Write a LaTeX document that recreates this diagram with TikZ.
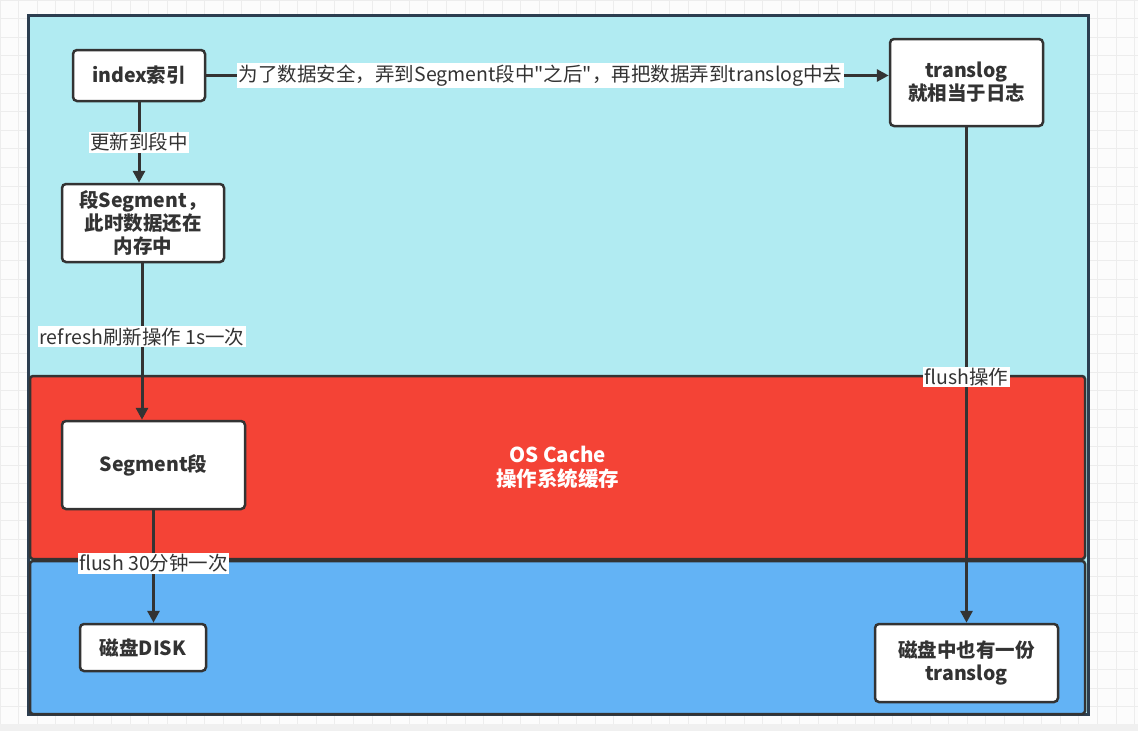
\documentclass[tikz,border=0pt]{standalone}
\usepackage{fontspec}
\newfontfamily\cnfont{Noto Sans CJK SC}
\usepackage{tikz}
\usetikzlibrary{arrows.meta}

\definecolor{cyanbg}{HTML}{B1EBF2}
\definecolor{cachered}{HTML}{F44336}
\definecolor{diskblue}{HTML}{63B3F5}
\definecolor{inkgray}{HTML}{333333}
\definecolor{framenavy}{HTML}{2C3E50}
\definecolor{gridgray}{HTML}{EDEDED}

\begin{document}
\begin{tikzpicture}[x=1pt,y=-1pt,
  box/.style={draw=inkgray,line width=2.5pt,fill=white,rounded corners=4pt,align=center,
    text=inkgray,font=\cnfont\fontsize{19.5}{23}\selectfont\bfseries},
  layer/.style={draw=inkgray,line width=2.5pt,rounded corners=3pt,inner sep=0pt},
  lab/.style={fill=white,inner sep=1.5pt,text=inkgray,font=\cnfont\fontsize{19.5}{21}\selectfont},
  flow/.style={->,draw=inkgray,line width=3pt},
  >={Triangle[length=12pt,width=12pt]}]
  \useasboundingbox (0,0) rectangle (1138,731);
  % grid paper
  \fill[white!98!gray] (0,0) rectangle (1138,731);
  \foreach \gx in {0,18.6,...,1138} \draw[gridgray,line width=0.8pt] (\gx,0) -- (\gx,731);
  \foreach \gy in {0,18.6,...,731} \draw[gridgray,line width=0.8pt] (0,\gy) -- (1138,\gy);
  \fill[gray!12] (0,724) rectangle (1138,731);
  % layers
  \node[draw=framenavy,line width=3pt,fill=cyanbg,minimum width=1060pt,minimum height=699pt] (mem) at (558,364.5) {};
  \node[layer,fill=cachered,minimum width=1055pt,minimum height=183pt,align=center,
    text=white,font=\cnfont\fontsize{20.5}{24}\selectfont\bfseries] (cache) at (557.5,467.5) {OS Cache\\操作系统缓存};
  \node[layer,fill=diskblue,minimum width=1055pt,minimum height=153pt] (disklayer) at (557.5,637.5) {};
  % boxes
  \node[box,minimum width=132pt,minimum height=51pt] (idx) at (139,75.5) {index索引};
  \node[box,minimum width=153pt,minimum height=87pt] (tlog) at (966.5,82.5) {translog\\就相当于日志};
  \node[box,minimum width=162pt,minimum height=78pt,inner sep=1pt] (seg) at (143,223) {段Segment，\\此时数据还在\\内存中};
  \node[box,minimum width=183pt,minimum height=88pt] (segos) at (153.5,465) {Segment段};
  \node[box,minimum width=126pt,minimum height=47pt] (disk) at (143,647.5) {磁盘DISK};
  \node[box,minimum width=183pt,minimum height=78pt] (tdisk) at (966.5,663) {磁盘中也有一份\\translog};
  % arrows
  \draw[flow] (idx.east) -- node[lab,pos=0.49] {为了数据安全，弄到Segment段中"之后"，再把数据弄到translog中去} (idx.east -| tlog.west);
  \draw[flow] (idx.south) -- node[lab] {更新到段中} (idx.south |- seg.north);
  \draw[flow] ([xshift=-1pt]seg.south) -- node[lab,pos=0.47] {refresh刷新操作 1s一次} ([xshift=-1pt]seg.south |- segos.north);
  \draw[flow] (segos.south) -- node[lab,pos=0.47] {flush 30分钟一次} (segos.south |- disk.north);
  \draw[flow] (tlog) -- node[lab,pos=0.504] {flush操作} (tdisk);
\end{tikzpicture}
\end{document}
